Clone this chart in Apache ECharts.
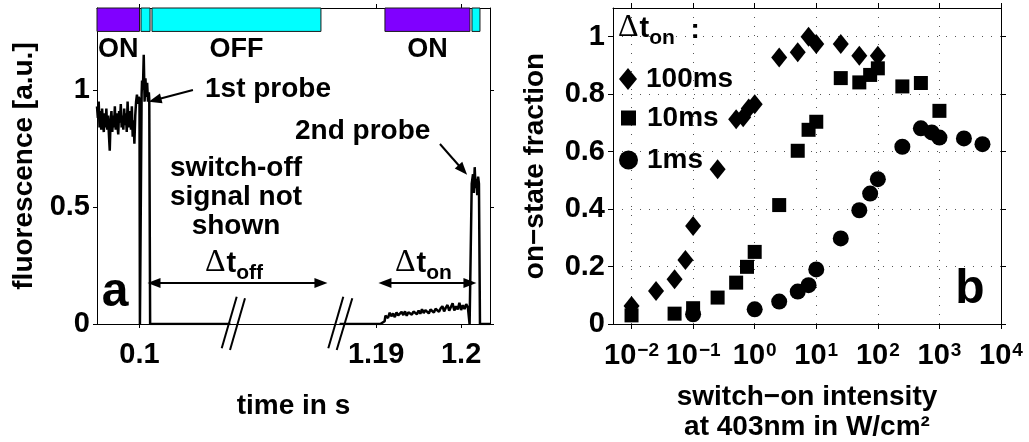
<!DOCTYPE html>
<html>
<head>
<meta charset="utf-8">
<title>Photoswitching: fluorescence trace and on-state fraction</title>
<script src="https://cdn.jsdelivr.net/npm/echarts@6/dist/echarts.min.js"></script>
<style>
  html, body { margin: 0; padding: 0; background: #ffffff; }
  #chart { width: 1029px; height: 442px; }
</style>
</head>
<body>
<div id="chart"></div>
<script>
// ---------------- Panel a: fluorescence trace (time in s) ----------------
// ON phase before the first probe, sampled every 0.1 ms from 0.0950 s
const onPhaseStart = 0.0950;
const onPhaseStep = 0.0001;
const onPhaseSignal = [
  0.93, 0.88, 0.95, 0.84, 0.91, 0.83, 0.92, 0.86, 0.82, 0.90,
  0.84, 0.92, 0.83, 0.89, 0.81, 0.74, 0.87, 0.91, 0.82, 0.89,
  0.84, 0.93, 0.83, 0.90, 0.85, 0.81, 0.91, 0.86, 0.94, 0.84,
  0.89, 0.83, 0.92, 0.85, 0.90, 0.82, 0.95, 0.86, 0.84, 0.91,
  0.83, 0.93, 0.80, 0.87, 0.77, 0.89
];
// rise at the end of the ON phase and gap before the first probe
const beforeProbe1 = [
  [0.0996, 0.95], [0.0997, 0.98], [0.0998, 0.94], [0.0999, 0.97],
  [0.1000, 0.96], [0.10005, 0], [0.1002, 0], [0.10025, 0.98]
];
// first probe pulse, sampled every 0.1 ms from 0.1003 s
const probe1Start = 0.1003;
const probe1Step = 0.0001;
const probe1Signal = [1.04, 1.00, 1.15, 0.95, 1.05, 0.97, 1.03, 0.95, 0.99];
const afterProbe1 = [[0.10115, 0.96], [0.10125, 0], [0.1107, 0]];

// second part of the trace, after the axis break
const beforeOnPhase2 = [[1.1857, 0], [1.1905, 0], [1.1910, 0.012], [1.1911, 0.035]];
const onPhase2Start = 1.1912;
const onPhase2Step = 0.0002;
const onPhase2Signal = [
  0.040, 0.026, 0.048, 0.033, 0.045, 0.029, 0.050, 0.037, 0.032, 0.052,
  0.038, 0.054, 0.035, 0.050, 0.058, 0.040, 0.053, 0.060, 0.042, 0.057,
  0.044, 0.063, 0.047, 0.059, 0.066, 0.045, 0.062, 0.069, 0.049, 0.065,
  0.072, 0.052, 0.067, 0.076, 0.054, 0.070, 0.081, 0.057, 0.073, 0.089,
  0.058, 0.076, 0.062, 0.091, 0.060, 0.080, 0.064, 0.085, 0.070
];
const beforeProbe2 = [[1.2009, 0.078], [1.2010, 0], [1.20122, 0], [1.20125, 0.60]];
const probe2Start = 1.2013;
const probe2Step = 0.0001;
const probe2Signal = [0.60, 0.64, 0.56, 0.67, 0.58, 0.62, 0.55, 0.63, 0.60];
const afterProbe2 = [[1.20215, 0.60], [1.20222, 0], [1.2034, 0]];

// laser schedule shown above the trace: [start s, end s, state, label]
const laserBeforeBreak = [
  [0.0950, 0.1000, 'ON', 'ON'],
  [0.10018, 0.10124, 'OFF', ''],
  [0.10147, 0.12135, 'OFF', 'OFF']
];
const laserAfterBreak = [
  [1.19104, 1.20104, 'ON', 'ON'],
  [1.20128, 1.20222, 'OFF', '']
];

// axis ticks of panel a
const timeTicksBeforeBreak = [0.1];
const timeTicksAfterBreak = [1.19, 1.2];
const fluorescenceTicks = [0, 0.5, 1];

// ---------------- Panel b: on-state fraction vs switch-on intensity ----------------
const intensity100ms = [0.01, 0.025, 0.05, 0.075, 0.1, 0.25, 0.5, 0.65, 0.8, 1.0, 2.5, 5, 7.5, 10, 25, 50, 100];
const fraction100ms  = [0.063, 0.115, 0.156, 0.223, 0.341, 0.539, 0.713, 0.72, 0.75, 0.765, 0.928, 0.946, 1.0, 0.975, 0.975, 0.934, 0.934];

const intensity10ms = [0.01, 0.05, 0.1, 0.25, 0.5, 0.75, 1, 2.5, 5, 7.5, 10, 25, 50, 75, 100, 250, 500, 1000];
const fraction10ms  = [0.03, 0.036, 0.055, 0.092, 0.144, 0.199, 0.251, 0.414, 0.603, 0.676, 0.704, 0.856, 0.841, 0.867, 0.89, 0.827, 0.839, 0.742];

const intensity1ms = [0.1, 1, 2.5, 5, 7.5, 10, 25, 50, 75, 100, 250, 500, 750, 1000, 2500, 5000];
const fraction1ms  = [0.034, 0.051, 0.078, 0.113, 0.135, 0.19, 0.298, 0.396, 0.454, 0.504, 0.617, 0.681, 0.667, 0.649, 0.646, 0.626];

const intensityTicks = [0.01, 0.1, 1, 10, 100, 1000, 10000];
const fractionTicks = [0, 0.2, 0.4, 0.6, 0.8, 1];

// ---------------- helpers ----------------
const FONT = 'Liberation Sans, Arial, Helvetica, sans-serif';
const SYMBOL_FONT = 'Liberation Serif, Times New Roman, serif';
const BLACK = '#000000';
const COLOR_ON = '#8000ff';
const COLOR_OFF = '#00ffff';

function sampled(start, step, values) {
  return values.map((v, i) => [Number((start + i * step).toFixed(5)), v]);
}
function pairs(xs, ys) {
  return xs.map((x, i) => [x, ys[i]]);
}
function laserAreas(list) {
  return list.map(([t0, t1, state, label]) => [
    { name: label, xAxis: t0, yAxis: 1.25,
      itemStyle: { color: state === 'ON' ? COLOR_ON : COLOR_OFF, borderColor: '#1a1a1a', borderWidth: 1 } },
    { xAxis: t1, yAxis: 1.35 }
  ]);
}

const traceBeforeBreak = [].concat(
  sampled(onPhaseStart, onPhaseStep, onPhaseSignal),
  beforeProbe1,
  sampled(probe1Start, probe1Step, probe1Signal),
  afterProbe1
);
const traceAfterBreak = [].concat(
  beforeOnPhase2,
  sampled(onPhase2Start, onPhase2Step, onPhase2Signal),
  beforeProbe2,
  sampled(probe2Start, probe2Step, probe2Signal),
  afterProbe2
);

const labelText = { color: BLACK, fontFamily: FONT, fontWeight: 'bold', fontSize: 28 };
const tickText = { color: BLACK, fontFamily: FONT, fontWeight: 'bold', fontSize: 29 };
const lineStyleBlack = { color: BLACK, width: 1 };

function timeAxis(min, max, ticks, position, withLine, withLabels, extra) {
  return Object.assign({
    type: 'value', gridIndex: 0, min: min, max: max, position: position,
    axisLine: { show: withLine, onZero: false, lineStyle: lineStyleBlack },
    axisTick: { show: true, length: 4, customValues: ticks, lineStyle: lineStyleBlack },
    axisLabel: { show: withLabels, customValues: ticks, margin: 16, formatter: v => String(v), ...tickText },
    splitLine: { show: false }
  }, extra || {});
}

const dotted = { show: true, lineStyle: { color: '#555555', width: 1, type: [1, 8] } };

// rich text pieces for the Δt labels
const deltaRich = {
  d: { fontFamily: SYMBOL_FONT, fontSize: 32, fontWeight: 'normal', color: BLACK, verticalAlign: 'bottom', padding: [0, 1, 5, 0] },
  t: { fontFamily: FONT, fontSize: 29, fontWeight: 'bold', color: BLACK, verticalAlign: 'bottom', padding: [0, 0, 5, 0] },
  s: { fontFamily: FONT, fontSize: 21, fontWeight: 'bold', color: BLACK, verticalAlign: 'bottom' },
  c: { fontFamily: FONT, fontSize: 28, fontWeight: 'bold', color: BLACK, verticalAlign: 'bottom', padding: [0, 0, 4, 0] }
};

function plainText(x, y, text, extra) {
  return {
    type: 'text', x: x, y: y, z: 50,
    style: Object.assign({ text: text, fill: BLACK, fontFamily: FONT, fontWeight: 'bold', fontSize: 28, verticalAlign: 'middle' }, extra || {})
  };
}
function breakMark(x1, y1, x2, y2) {
  return { type: 'line', z: 50, shape: { x1: x1, y1: y1, x2: x2, y2: y2 }, style: { stroke: BLACK, lineWidth: 2 } };
}

const arrowLine = { color: BLACK, width: 2, type: 'solid' };

const option = {
  animation: false,
  backgroundColor: '#ffffff',
  textStyle: { fontFamily: FONT },
  grid: [
    { left: 97, top: 8, width: 393, height: 316, outerBoundsMode: 'none' },
    { left: 613, top: 8, width: 388, height: 316, outerBoundsMode: 'none' }
  ],
  xAxis: [
    timeAxis(0.095, 0.14124, timeTicksBeforeBreak, 'bottom', true, true, {
      name: 'time in s', nameLocation: 'middle', nameGap: 68,
      nameTextStyle: { ...labelText }
    }),
    timeAxis(1.15716, 1.2034, timeTicksAfterBreak, 'bottom', false, true),
    timeAxis(0.095, 0.14124, timeTicksBeforeBreak, 'top', true, false),
    timeAxis(1.15716, 1.2034, timeTicksAfterBreak, 'top', false, false),
    {
      type: 'log', logBase: 10, gridIndex: 1, min: 0.005, max: 10000, position: 'bottom',
      axisLine: { show: true, onZero: false, lineStyle: lineStyleBlack },
      axisTick: { show: true, length: 5, customValues: intensityTicks, lineStyle: lineStyleBlack },
      axisLabel: {
        customValues: intensityTicks, margin: 17,
        formatter: v => '{b|10}{e|' + String(Math.round(Math.log10(v))).replace('-', '\u2212') + '}',
        rich: {
          b: { fontFamily: FONT, fontSize: 29, fontWeight: 'bold', color: BLACK, verticalAlign: 'bottom' },
          e: { fontFamily: FONT, fontSize: 19, fontWeight: 'bold', color: BLACK, verticalAlign: 'top', padding: [0, 0, 0, 1] }
        }
      },
      splitLine: dotted,
      name: 'switch\u2212on intensity\nat 403nm in W/cm\u00b2', nameLocation: 'middle', nameGap: 58,
      nameTextStyle: { ...labelText, lineHeight: 30 }
    },
    {
      type: 'log', logBase: 10, gridIndex: 1, min: 0.005, max: 10000, position: 'top',
      axisLine: { show: true, onZero: false, lineStyle: lineStyleBlack },
      axisTick: { show: true, length: 5, customValues: intensityTicks, lineStyle: lineStyleBlack },
      axisLabel: { show: false },
      splitLine: { show: false }
    }
  ],
  yAxis: [
    {
      type: 'value', gridIndex: 0, min: 0, max: 1.35, position: 'left',
      axisLine: { show: true, onZero: false, lineStyle: lineStyleBlack },
      axisTick: { show: true, length: 4, customValues: fluorescenceTicks, lineStyle: lineStyleBlack },
      axisLabel: { customValues: fluorescenceTicks, margin: 7, formatter: v => String(v), ...tickText },
      splitLine: { show: false },
      name: 'fluorescence [a.u.]', nameLocation: 'middle', nameGap: 59,
      nameTextStyle: { ...labelText }
    },
    {
      type: 'value', gridIndex: 0, min: 0, max: 1.35, position: 'right',
      axisLine: { show: true, onZero: false, lineStyle: lineStyleBlack },
      axisTick: { show: true, length: 4, customValues: fluorescenceTicks, lineStyle: lineStyleBlack },
      axisLabel: { show: false },
      splitLine: { show: false }
    },
    {
      type: 'value', gridIndex: 1, min: 0, max: 1.1, position: 'left',
      axisLine: { show: true, onZero: false, lineStyle: lineStyleBlack },
      axisTick: { show: true, length: 5, customValues: fractionTicks, lineStyle: lineStyleBlack },
      axisLabel: { customValues: fractionTicks, margin: 8, formatter: v => String(v), ...tickText },
      splitLine: dotted,
      name: 'on\u2212state fraction', nameLocation: 'middle', nameGap: 64,
      nameTextStyle: { ...labelText }
    },
    {
      type: 'value', gridIndex: 1, min: 0, max: 1.1, position: 'right',
      axisLine: { show: true, onZero: false, lineStyle: lineStyleBlack },
      axisTick: { show: true, length: 5, customValues: fractionTicks, lineStyle: lineStyleBlack },
      axisLabel: { show: false },
      splitLine: { show: false }
    }
  ],
  legend: [
    { data: ['100ms'], left: 619, top: 65, padding: 0, itemWidth: 18, itemHeight: 22, icon: 'diamond',
      textStyle: { ...labelText, padding: [0, 0, 0, 4] } },
    { data: ['10ms'], left: 621, top: 104, padding: 0, itemWidth: 15, itemHeight: 15, icon: 'rect',
      textStyle: { ...labelText, padding: [0, 0, 0, 6] } },
    { data: ['1ms'], left: 619, top: 146, padding: 0, itemWidth: 19, itemHeight: 19, icon: 'circle',
      textStyle: { ...labelText, padding: [0, 0, 0, 4] } }
  ],
  series: [
    {
      name: 'trace before break', type: 'line', xAxisIndex: 0, yAxisIndex: 0,
      data: traceBeforeBreak, showSymbol: false, symbol: 'none',
      lineStyle: { color: BLACK, width: 2.5 }, z: 5,
      markArea: {
        silent: true,
        label: { show: true, position: 'bottom', distance: 4, formatter: '{b}', ...labelText, fontSize: 27 },
        data: laserAreas(laserBeforeBreak)
      },
      markLine: {
        silent: true, animation: false,
        label: { show: false },
        lineStyle: arrowLine,
        symbol: ['triangle', 'triangle'], symbolSize: [10, 13],
        data: [
          [{ coord: [0.10171, 0.175] }, { coord: [0.12135, 0.175] }],
          [{ coord: [0.10629, 1.0], symbol: 'none' }, { coord: [0.10182, 0.957] }]
        ]
      }
    },
    {
      name: 'trace after break', type: 'line', xAxisIndex: 1, yAxisIndex: 0,
      data: traceAfterBreak, showSymbol: false, symbol: 'none',
      lineStyle: { color: BLACK, width: 2.5 }, z: 5,
      markArea: {
        silent: true,
        label: { show: true, position: 'bottom', distance: 4, formatter: '{b}', ...labelText, fontSize: 27 },
        data: laserAreas(laserAfterBreak)
      },
      markLine: {
        silent: true, animation: false,
        label: { show: false },
        lineStyle: arrowLine,
        symbol: ['triangle', 'triangle'], symbolSize: [10, 13],
        data: [
          [{ coord: [1.19104, 0.175] }, { coord: [1.20104, 0.175] }],
          [{ coord: [1.19751, 0.769], symbol: 'none' }, { coord: [1.2002, 0.658] }]
        ]
      }
    },
    {
      name: '100ms', type: 'scatter', xAxisIndex: 4, yAxisIndex: 2,
      symbol: 'diamond', symbolSize: [16, 20],
      itemStyle: { color: BLACK, opacity: 1 },
      data: pairs(intensity100ms, fraction100ms)
    },
    {
      name: '10ms', type: 'scatter', xAxisIndex: 4, yAxisIndex: 2,
      symbol: 'rect', symbolSize: 14,
      itemStyle: { color: BLACK, opacity: 1 },
      data: pairs(intensity10ms, fraction10ms)
    },
    {
      name: '1ms', type: 'scatter', xAxisIndex: 4, yAxisIndex: 2,
      symbol: 'circle', symbolSize: 16,
      itemStyle: { color: BLACK, opacity: 1 },
      data: pairs(intensity1ms, fraction1ms)
    }
  ],
  graphic: [
    // panel a annotations
    plainText(205, 89, '1st probe'),
    plainText(295, 131, '2nd probe'),
    plainText(236, 154, 'switch-off\nsignal not\nshown', { align: 'center', verticalAlign: 'top', lineHeight: 29 }),
    plainText(205, 265, '{d|\u0394}{t|t}{s|off}', { rich: deltaRich }),
    plainText(395, 265, '{d|\u0394}{t|t}{s|on}', { rich: deltaRich }),
    plainText(115, 293, 'a', { align: 'center', fontSize: 48 }),
    // axis break marks
    breakMark(221.7, 348.3, 236.7, 296.7),
    breakMark(230, 350, 245, 298.3),
    breakMark(328.3, 348.3, 343.3, 296.7),
    breakMark(336.7, 350, 352.3, 298.3),
    // panel b annotations
    plainText(618, 30, '{d|\u0394}{t|t}{s|on}{c|  :}', { rich: deltaRich }),
    plainText(970, 290, 'b', { align: 'center', fontSize: 48 })
  ]
};

const chart = echarts.init(document.getElementById('chart'));
chart.setOption(option);
</script>
</body>
</html>
